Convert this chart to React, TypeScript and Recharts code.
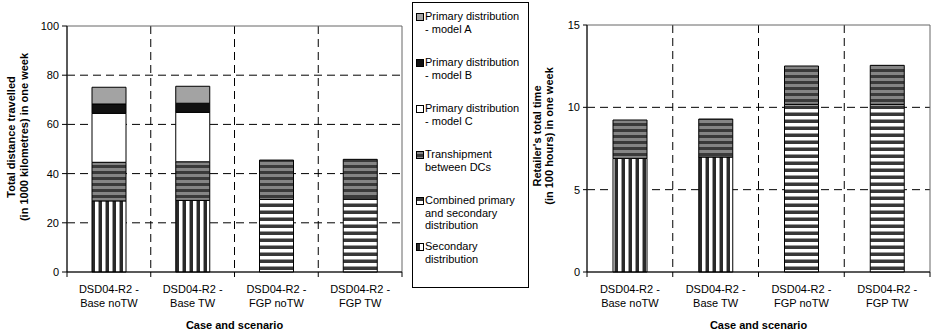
import React from "react";
import { BarChart, Bar, XAxis, YAxis, CartesianGrid, Legend, ReferenceArea } from "recharts";

const FONT = '"Liberation Sans", Arial, Helvetica, sans-serif';

// categories (two-line labels split on " - ")
const CATEGORIES = [
  "DSD04-R2 - Base noTW",
  "DSD04-R2 - Base TW",
  "DSD04-R2 - FGP noTW",
  "DSD04-R2 - FGP TW",
];

// left chart: total distance travelled (1000 km)
const DIST_SECONDARY = [28.9, 29.1, 0, 0];
const DIST_COMBINED = [0, 0, 29.5, 29.7];
const DIST_TRANSHIPMENT = [15.7, 15.7, 16.0, 16.1];
const DIST_MODEL_C = [19.9, 20.1, 0, 0];
const DIST_MODEL_B = [3.8, 3.7, 0, 0];
const DIST_MODEL_A = [6.8, 6.9, 0, 0];
const DIST_TICKS = [0, 20, 40, 60, 80, 100];

// right chart: retailer's total time (100 hours)
const TIME_SECONDARY = [6.9, 6.98, 0, 0];
const TIME_COMBINED = [0, 0, 10.18, 10.18];
const TIME_TRANSHIPMENT = [2.33, 2.31, 2.33, 2.37];
const TIME_TICKS = [0, 5, 10, 15];

const LEGEND_LABELS = [
  { key: "modelA", lines: ["Primary distribution", "- model A"] },
  { key: "modelB", lines: ["Primary distribution", "- model B"] },
  { key: "modelC", lines: ["Primary distribution", "- model C"] },
  { key: "transhipment", lines: ["Transhipment", "between DCs"] },
  { key: "combined", lines: ["Combined primary", "and secondary", "distribution"] },
  { key: "secondary", lines: ["Secondary", "distribution"] },
];

const FILLS: Record<string, string> = {
  modelA: "#a3a3a3",
  modelB: "#111111",
  modelC: "#ffffff",
  transhipment: "url(#pTrans)",
  combined: "url(#pComb)",
  secondary: "url(#pSec)",
};

const distanceData = CATEGORIES.map((name, i) => ({
  name,
  secondary: DIST_SECONDARY[i],
  combined: DIST_COMBINED[i],
  transhipment: DIST_TRANSHIPMENT[i],
  modelC: DIST_MODEL_C[i],
  modelB: DIST_MODEL_B[i],
  modelA: DIST_MODEL_A[i],
}));

const timeData = CATEGORIES.map((name, i) => ({
  name,
  secondary: TIME_SECONDARY[i],
  combined: TIME_COMBINED[i],
  transhipment: TIME_TRANSHIPMENT[i],
}));

const tickStyle = { fontSize: 11, fill: "#000", fontFamily: FONT };

function categoryTick(props: any, catW: number) {
  const { x, y, payload, index } = props;
  const [l1, l2] = String(payload.value).split(" - ");
  return (
    <g>
      <line x1={x - catW / 2} x2={x - catW / 2} y1={y} y2={y + 5} stroke="#000" />
      {index === CATEGORIES.length - 1 && (
        <line x1={x + catW / 2} x2={x + catW / 2} y1={y} y2={y + 5} stroke="#000" />
      )}
      <text x={x} y={y + 21} textAnchor="middle" {...tickStyle}>
        {l1 + " -"}
      </text>
      <text x={x} y={y + 35} textAnchor="middle" {...tickStyle}>
        {l2}
      </text>
    </g>
  );
}

function xTitle(props: any) {
  const { viewBox } = props;
  return (
    <text
      x={viewBox.x + viewBox.width / 2}
      y={viewBox.y + 57}
      textAnchor="middle"
      fontSize={11}
      fontWeight="bold"
      fontFamily={FONT}
      fill="#000"
    >
      Case and scenario
    </text>
  );
}

function yTitle(lines: string[], x1: number, x2: number, cy: number) {
  return () => (
    <g fontSize={11} fontWeight="bold" fontFamily={FONT} fill="#000">
      <text x={x1} y={cy} textAnchor="middle" transform={`rotate(-90 ${x1} ${cy})`}>
        {lines[0]}
      </text>
      <text x={x2} y={cy} textAnchor="middle" transform={`rotate(-90 ${x2} ${cy})`}>
        {lines[1]}
      </text>
    </g>
  );
}

function Swatch({ fill }: { fill: string }) {
  return (
    <svg width={8} height={8} style={{ position: "absolute", left: 3, top: 3 }}>
      <rect x={0.5} y={0.5} width={7} height={7} fill={fill} stroke="#000" />
    </svg>
  );
}

function renderLegend() {
  return (
    <div
      style={{
        width: 117,
        height: 286,
        border: "1px solid #000",
        boxSizing: "border-box",
        background: "#fff",
        fontFamily: FONT,
        fontSize: 11,
        color: "#000",
        paddingTop: 7,
      }}
    >
      {LEGEND_LABELS.map((item) => (
        <div key={item.key} style={{ position: "relative", height: 46, paddingLeft: 12 }}>
          <Swatch fill={FILLS[item.key]} />
          {item.lines.map((ln, j) => (
            <div key={j} style={{ lineHeight: "12.5px", whiteSpace: "nowrap" }}>
              {ln}
            </div>
          ))}
        </div>
      ))}
    </div>
  );
}

const LEFT_W = 530;
const RIGHT_W = 406;
const H = 332;
const LEFT_PLOT_W = LEFT_W - 27 - 40 - 128;
const RIGHT_PLOT_W = RIGHT_W - 27 - 30 - 6;

const boundaryLines = (n: number) => (props: any) => {
  const off = props.offset;
  const out: number[] = [];
  for (let i = 1; i < n; i++) out.push(off.left + (i * off.width) / n);
  return out;
};

const barCommon = { stackId: "a", stroke: "#000", strokeWidth: 1, isAnimationActive: false, barSize: 34 };

export default function App() {
  return (
    <div style={{ position: "absolute", left: 0, top: 0, width: 936, height: H, background: "#fff" }}>
      <svg width={0} height={0} style={{ position: "absolute" }}>
        <defs>
          <pattern id="pTrans" patternUnits="userSpaceOnUse" width={6} height={6}>
            <rect width={6} height={6} fill="#3a3a3a" />
            <rect y={0} width={6} height={3} fill="#858585" />
          </pattern>
          <pattern id="pComb" patternUnits="userSpaceOnUse" width={7} height={7}>
            <rect width={7} height={7} fill="#ffffff" />
            <rect y={0} width={7} height={1} fill="#9a9a9a" />
            <rect y={1} width={7} height={3} fill="#383838" />
          </pattern>
          <pattern id="pSec" patternUnits="userSpaceOnUse" width={7} height={7}>
            <rect width={7} height={7} fill="#ffffff" />
            <rect x={0} width={1} height={7} fill="#9a9a9a" />
            <rect x={1} width={3} height={7} fill="#2a2a2a" />
          </pattern>
        </defs>
      </svg>

      <div style={{ position: "absolute", left: 0, top: 0 }}>
        <BarChart
          width={LEFT_W}
          height={H}
          data={distanceData}
          margin={{ top: 26, right: 128, bottom: 0, left: 27 }}
          barCategoryGap="0%"
        >
          <CartesianGrid
            stroke="#000"
            strokeDasharray="8 5"
            horizontalValues={[20, 40, 60, 80]}
            verticalCoordinatesGenerator={boundaryLines(CATEGORIES.length)}
          />
          <ReferenceArea y1={0} y2={100} fill="none" stroke="#666" strokeWidth={1} ifOverflow="visible" />
          <XAxis
            dataKey="name"
            height={60}
            interval={0}
            axisLine={{ stroke: "#000" }}
            tickLine={false}
            tickSize={0}
            tickMargin={0}
            tick={(p: any) => categoryTick(p, LEFT_PLOT_W / CATEGORIES.length)}
            label={{ content: xTitle }}
          />
          <YAxis
            width={40}
            domain={[0, 100]}
            ticks={DIST_TICKS}
            interval={0}
            axisLine={{ stroke: "#000" }}
            tickLine={{ stroke: "#000" }}
            tickSize={5}
            tickMargin={3}
            tick={tickStyle}
            label={{
              content: yTitle(
                ["Total distance travelled", "(in 1000 kilometres) in one week"],
                14.5,
                28,
                137
              ),
            }}
          />
          <Legend
            layout="vertical"
            align="center"
            verticalAlign="middle"
            content={renderLegend}
            wrapperStyle={{ position: "absolute", left: 412, top: 2, width: 117, height: 286 }}
          />
          <Bar dataKey="secondary" fill={FILLS.secondary} {...barCommon} />
          <Bar dataKey="combined" fill={FILLS.combined} {...barCommon} />
          <Bar dataKey="transhipment" fill={FILLS.transhipment} {...barCommon} />
          <Bar dataKey="modelC" fill={FILLS.modelC} {...barCommon} />
          <Bar dataKey="modelB" fill={FILLS.modelB} {...barCommon} />
          <Bar dataKey="modelA" fill={FILLS.modelA} {...barCommon} />
        </BarChart>
      </div>

      <div style={{ position: "absolute", left: LEFT_W, top: 0 }}>
        <BarChart
          width={RIGHT_W}
          height={H}
          data={timeData}
          margin={{ top: 25, right: 6, bottom: 0, left: 27 }}
          barCategoryGap="0%"
        >
          <CartesianGrid
            stroke="#000"
            strokeDasharray="8 5"
            horizontalValues={[5, 10]}
            verticalCoordinatesGenerator={boundaryLines(CATEGORIES.length)}
          />
          <ReferenceArea y1={0} y2={15} fill="none" stroke="#666" strokeWidth={1} ifOverflow="visible" />
          <XAxis
            dataKey="name"
            height={60}
            interval={0}
            axisLine={{ stroke: "#000" }}
            tickLine={false}
            tickSize={0}
            tickMargin={0}
            tick={(p: any) => categoryTick(p, RIGHT_PLOT_W / CATEGORIES.length)}
            label={{ content: xTitle }}
          />
          <YAxis
            width={30}
            domain={[0, 15]}
            ticks={TIME_TICKS}
            interval={0}
            axisLine={{ stroke: "#000" }}
            tickLine={{ stroke: "#000" }}
            tickSize={4}
            tickMargin={3}
            tick={tickStyle}
            label={{
              content: yTitle(["Retailer's total time", "(in 100 hours) in one week"], 10.7, 23, 136),
            }}
          />
          <Bar dataKey="secondary" fill={FILLS.secondary} {...barCommon} />
          <Bar dataKey="combined" fill={FILLS.combined} {...barCommon} />
          <Bar dataKey="transhipment" fill={FILLS.transhipment} {...barCommon} />
        </BarChart>
      </div>
    </div>
  );
}
